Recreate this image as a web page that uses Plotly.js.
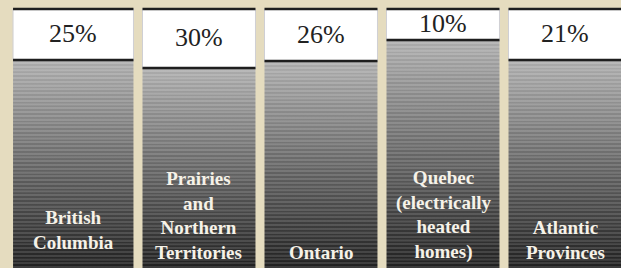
<!DOCTYPE html>
<html>
<head>
<meta charset="utf-8">
<script src="https://cdn.plot.ly/plotly-3.0.1.min.js"></script>
<style>html,body{margin:0;padding:0;background:#e5dcbf;}#chart{width:621px;height:268px;}</style>
</head>
<body>
<div id="chart"></div>
<script>
// ---- data ----
const regions = ['British<br>Columbia', 'Prairies<br>and<br>Northern<br>Territories', 'Ontario', 'Quebec<br>(electrically<br>heated<br>homes)', 'Atlantic<br>Provinces'];
const shares = [25, 30, 26, 10, 21];
// depth of the white label box, as percent of the full column height
const boxDepth = [19.7, 22.8, 20.1, 12.0, 19.7];

// ---- styling / layout ----
const BG = '#e5dcbf';
const half = 0.463;
const idx = regions.map((_, i) => i);
const leftEdge = idx.map(i => i === 0 ? i - 0.524 : i - half);
const rightEdge = idx.map(i => i + half);
const widths = idx.map(i => rightEdge[i] - leftEdge[i]);
const offsets = idx.map(i => leftEdge[i] - i);
const pxPerUnit = 2.59;

function stripeScale(heightUnits) {
  const hpx = heightUnits * pxPerUnit;
  const n = Math.max(4, Math.round(hpx / 3.8));
  const stops = [];
  const lerp = (a, b, t) => a + (b - a) * t;
  for (let k = 0; k < n; k++) {
    for (let j = 0; j < 4; j++) {
      const pos = (k + [0, 0.45, 0.55, 0.95][j]) / n;
      const t = Math.min(1, pos);
      const base = lerp(60, 186, t);
      const dark = (j === 2 || j === 3) ? lerp(28, 14, t) : 0;
      const v = Math.round(Math.max(0, base - dark));
      stops.push([pos, 'rgb(' + v + ',' + v + ',' + v + ')']);
    }
  }
  stops[0][0] = 0;
  stops.push([1, stops[stops.length - 1][1]]);
  return stops;
}

const traces = [];
// gray striped gradient bodies
idx.forEach(i => {
  const top = 100 - boxDepth[i];
  traces.push({
    type: 'scatter', mode: 'lines', fill: 'toself',
    x: [leftEdge[i], rightEdge[i], rightEdge[i], leftEdge[i], leftEdge[i]],
    y: [0, 0, top, top, 0],
    line: {width: 0, color: 'rgba(0,0,0,0)'},
    fillgradient: {type: 'vertical', colorscale: stripeScale(top), start: 0, stop: top},
    hoverinfo: 'skip', showlegend: false
  });
});
// white label boxes
traces.push({
  type: 'bar', x: idx, y: boxDepth, base: boxDepth.map(d => 100 - d),
  width: widths, offset: offsets,
  marker: {color: '#ffffff', line: {color: '#cfcfd4', width: 1}},
  hoverinfo: 'skip', showlegend: false
});
// dark rules at top of column and at bottom of box
const lx = [], ly = [];
idx.forEach(i => {
  lx.push(leftEdge[i], rightEdge[i], null, leftEdge[i], rightEdge[i], null);
  ly.push(100, 100, null, 100 - boxDepth[i], 100 - boxDepth[i], null);
});
traces.push({type: 'scatter', mode: 'lines', x: lx, y: ly, line: {color: '#1e1e1e', width: 2.6},
  hoverinfo: 'skip', showlegend: false, connectgaps: false});

const annotations = [];
idx.forEach(i => {
  const cx = (leftEdge[i] + rightEdge[i]) / 2;
  annotations.push({
    x: cx, y: 100 - boxDepth[i] / 2, xref: 'x', yref: 'y', text: shares[i] + '%',
    showarrow: false, xanchor: 'center', yanchor: 'middle', yshift: 1,
    font: {family: 'Liberation Serif, serif', size: 26, color: '#222222'}
  });
  annotations.push({
    x: cx, y: 0, xref: 'x', yref: 'y', text: '<b>' + regions[i].split('<br>').join('</b><br><b>') + '</b>',
    showarrow: false, xanchor: 'center', yanchor: 'bottom', align: 'center',
    yshift: i === 0 ? 13 : 3,
    font: {family: 'Liberation Serif, serif', size: 19, color: '#f6f2e8'}
  });
});

const layout = {
  width: 621, height: 268,
  margin: {l: 0, r: 0, t: 0, b: 0, pad: 0},
  paper_bgcolor: BG, plot_bgcolor: BG,
  showlegend: false, barmode: 'overlay',
  xaxis: {range: [-0.631, 4.459], visible: false, fixedrange: true},
  yaxis: {range: [0, 103.47], visible: false, fixedrange: true},
  annotations: annotations
};
Plotly.newPlot('chart', traces, layout, {staticPlot: true, displayModeBar: false});
</script>
</body>
</html>
